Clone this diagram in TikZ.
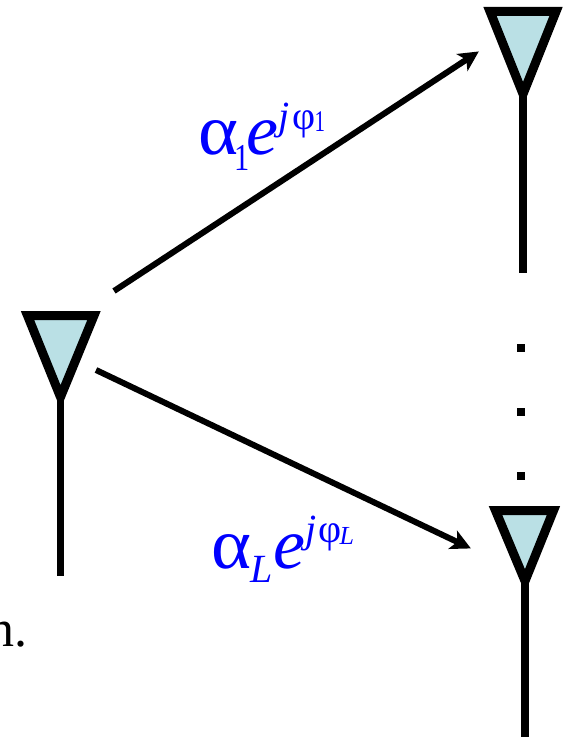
\documentclass[tikz,border=0pt]{standalone}
\usepackage{fontspec}
\setmainfont{Liberation Serif}
\usetikzlibrary{arrows.meta}
\definecolor{antfill}{RGB}{186,224,229}
\definecolor{lblue}{RGB}{0,0,255}
\tikzset{
  ant/.style={draw=black,fill=antfill,line width=9pt,miter limit=10,line join=miter},
  mast/.style={draw=black,line width=7.5pt},
  link/.style={draw=black,line width=6pt,-{Stealth[length=20pt,width=20pt,inset=5pt]},shorten >=-1pt},
  dotm/.style={fill=black,minimum size=8pt,inner sep=0pt,draw=none},
  lbl/.style={text=lblue,inner sep=0pt,anchor=base west}
}
\newcommand{\sz}[1]{\fontsize{#1}{#1}\selectfont}
\newcommand{\eqA}{\sz{72}\scalebox{1.06}[1]{α}\kern-4pt\raisebox{-16pt}{\sz{38}\scalebox{.8}[1]{1}}\kern-3pt\textit{e}\kern0pt\raisebox{25pt}{\sz{40}\textit{j}\kern3ptφ\kern-1pt\raisebox{-2pt}{\sz{30}\scalebox{.7}[1]{1}}}}
\newcommand{\eqB}{\sz{72}\scalebox{1.06}[1]{α}\kern-1pt\raisebox{-14pt}{\sz{40}\textit{L}}\kern1pt\textit{e}\kern0pt\raisebox{26pt}{\sz{40}\textit{j}\kern2ptφ\kern-2pt\raisebox{-2pt}{\sz{26}\textit{L}}}}
\begin{document}
\begin{tikzpicture}[x=1pt,y=-1pt]
\useasboundingbox (0,0) rectangle (571,738);
\clip (0,0) rectangle (571,738);
% antennas
\draw[ant] (490,11.5) -- (556,11.5) -- (523,94) -- cycle;
\draw[mast] (523,90) -- (523,273);
\draw[ant] (27.5,315.5) -- (94,315.5) -- (60.5,397) -- cycle;
\draw[mast] (60.5,393) -- (60.5,576);
\draw[ant] (495.5,510.5) -- (553.5,510.5) -- (525,581) -- cycle;
\draw[mast] (525,578) -- (525,737);
% links
\coordinate (src1) at (114,291);
\coordinate (dst1) at (478,52);
\coordinate (srcL) at (96,370);
\coordinate (dstL) at (470,548);
\draw[link] (src1) -- (dst1);
\draw[link] (srcL) -- (dstL);
% dots
\node[dotm] (d1) at (521,348) {};
\node[dotm] (d2) at (521,412) {};
\node[dotm] (d3) at (521,476) {};
% labels
\node[lbl] (la) at (198,155) {\eqA};
\node[lbl] (lb) at (211,568) {\eqB};
\node[anchor=base east,inner sep=0pt,font=\fontsize{52}{52}\selectfont] (tail) at (28,646) {n.};
\end{tikzpicture}
\end{document}
